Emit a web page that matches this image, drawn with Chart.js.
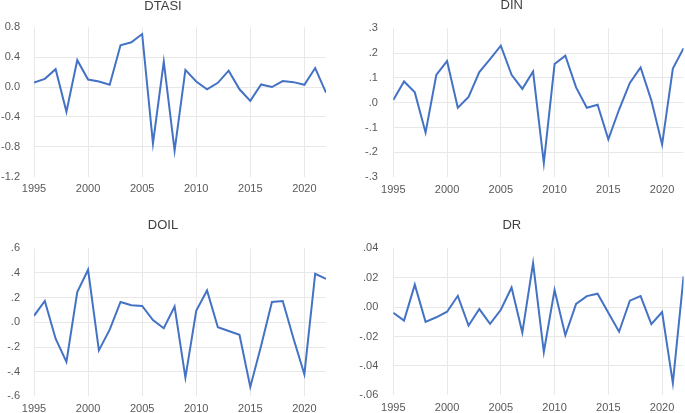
<!DOCTYPE html>
<html>
<head>
<meta charset="utf-8">
<script src="https://cdn.jsdelivr.net/npm/chart.js@4"></script>
<style>
  html, body { margin: 0; padding: 0; background: #ffffff; width: 685px; height: 413px; overflow: hidden; position: relative; }
  canvas { position: absolute; }
</style>
</head>
<body>
<canvas id="c1" width="352" height="202" style="left:0px;top:-2px;width:352px;height:202px"></canvas>
<canvas id="c2" width="386" height="202" style="left:340px;top:-2px;width:386px;height:202px"></canvas>
<canvas id="c3" width="351" height="200" style="left:0px;top:217px;width:351px;height:200px"></canvas>
<canvas id="c4" width="388" height="200" style="left:340px;top:217px;width:388px;height:200px"></canvas>
<script>
// ---------------- data ----------------
const years = [1995, 1996, 1997, 1998, 1999, 2000, 2001, 2002, 2003, 2004, 2005, 2006, 2007, 2008,
               2009, 2010, 2011, 2012, 2013, 2014, 2015, 2016, 2017, 2018, 2019, 2020, 2021, 2022];
const xTickLabels = ['1995', '2000', '2005', '2010', '2015', '2020'];

const dtasi = [0.06, 0.11, 0.24, -0.33, 0.36, 0.10, 0.075, 0.03, 0.56, 0.60, 0.71, -0.755, 0.34, -0.85,
               0.23, 0.075, -0.03, 0.057, 0.22, -0.03, -0.185, 0.035, 0.0, 0.08, 0.066, 0.03, 0.255, -0.075];
const din = [0.011, 0.086, 0.042, -0.12, 0.112, 0.168, -0.02, 0.024, 0.124, 0.176, 0.23, 0.113, 0.056, 0.126,
             -0.243, 0.156, 0.19, 0.062, -0.02, -0.008, -0.147, -0.027, 0.08, 0.142, 0.01, -0.168, 0.138, 0.22];
const doil = [0.053, 0.173, -0.133, -0.32, 0.245, 0.426, -0.227, -0.059, 0.165, 0.138, 0.133, 0.019, -0.048, 0.128,
              -0.448, 0.093, 0.258, -0.04, -0.07, -0.1, -0.523, -0.19, 0.165, 0.173, -0.133, -0.42, 0.394, 0.352];
const dr = [-0.0038, -0.0091, 0.0153, -0.010, -0.0069, -0.0031, 0.0077, -0.0125, -0.0013, -0.0113, -0.0018, 0.0133, -0.0173, 0.030,
            -0.0305, 0.0117, -0.0191, 0.0022, 0.0075, 0.0091, -0.0038, -0.0167, 0.0044, 0.0075, -0.0116, -0.0033, -0.0516, 0.021];

// y tick labels, listed top to bottom
const dtasiTicks = ['0.8', '0.4', '0.0', '-0.4', '-0.8', '-1.2'];
const dinTicks = ['.3', '.2', '.1', '.0', '-.1', '-.2', '-.3'];
const doilTicks = ['.6', '.4', '.2', '.0', '-.2', '-.4', '-.6'];
const drTicks = ['.04', '.02', '.00', '-.02', '-.04', '-.06'];

// ---------------- drawing ----------------
const FONT = "'Liberation Sans', 'DejaVu Sans', sans-serif";
const GRID = '#e8e8e8';

function makePanel(id, title, values, yMin, yMax, yStep, yLabels, L) {
  new Chart(document.getElementById(id), {
    type: 'line',
    data: {
      labels: years,
      datasets: [{
        data: values,
        borderColor: '#4472c4',
        borderWidth: 2,
        pointRadius: 0,
        pointHoverRadius: 0,
        tension: 0,
        fill: false
      }]
    },
    options: {
      responsive: false,
      animation: false,
      events: [],
      layout: { padding: { left: 0, right: L.padRight, top: 0, bottom: 0 } },
      plugins: {
        legend: { display: false },
        tooltip: { enabled: false },
        title: {
          display: true,
          text: title,
          color: '#404040',
          font: { family: FONT, size: 13, weight: 'normal', lineHeight: 1.2 },
          padding: { top: L.titleTop, bottom: L.titleBottom }
        }
      },
      scales: {
        x: {
          type: 'linear',
          min: 1995,
          max: 2022,
          afterFit: (s) => { s.height = L.xHeight; },
          border: { display: false },
          grid: { color: GRID, lineWidth: 1, drawTicks: false },
          ticks: {
            stepSize: 5,
            includeBounds: false,
            autoSkip: false,
            maxRotation: 0,
            padding: 6,
            color: '#595959',
            font: { family: FONT, size: 11 },
            callback: (v, i) => xTickLabels[i]
          }
        },
        y: {
          type: 'linear',
          min: yMin,
          max: yMax,
          afterFit: (s) => { s.width = L.yWidth; },
          border: { display: false },
          grid: {
            drawTicks: false,
            lineWidth: 1,
            color: (ctx) => (ctx.index === 0 || ctx.index === yLabels.length - 1) ? 'rgba(0,0,0,0)' : GRID
          },
          ticks: {
            stepSize: yStep,
            autoSkip: false,
            padding: L.yPad,
            color: '#595959',
            font: { family: FONT, size: 11 },
            callback: (v, i) => yLabels[yLabels.length - 1 - i]
          }
        }
      }
    }
  });
}

makePanel('c1', 'DTASI', dtasi, -1.2, 0.8, 0.4, dtasiTicks,
  { padRight: 26, titleTop: 0.2, titleBottom: 13.5, xHeight: 23.3, yWidth: 34, yPad: 14 });
makePanel('c2', 'DIN', din, -0.3, 0.3, 0.1, dinTicks,
  { padRight: 42.4, titleTop: 0, titleBottom: 14.7, xHeight: 22.7, yWidth: 53.3, yPad: 15.5 });
makePanel('c3', 'DOIL', doil, -0.6, 0.6, 0.2, doilTicks,
  { padRight: 25, titleTop: 0.2, titleBottom: 15.5, xHeight: 19.7, yWidth: 34, yPad: 14 });
makePanel('c4', 'DR', dr, -0.06, 0.04, 0.02, drTicks,
  { padRight: 44.4, titleTop: 0.2, titleBottom: 15.5, xHeight: 19.7, yWidth: 53.3, yPad: 15 });
</script>
</body>
</html>
